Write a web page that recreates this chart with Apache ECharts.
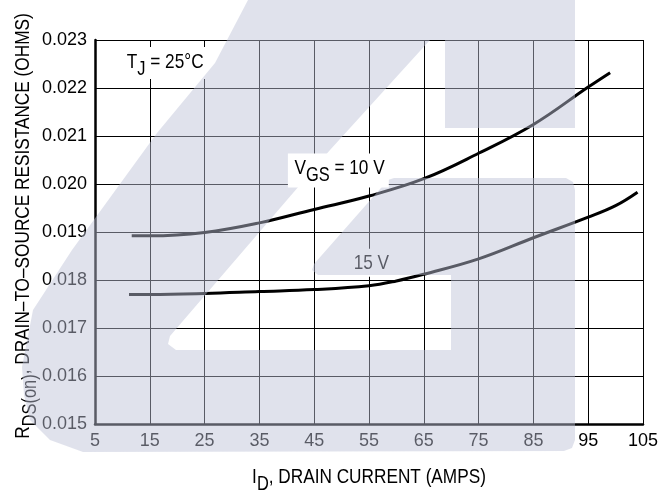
<!DOCTYPE html>
<html><head><meta charset="utf-8">
<script src="https://cdn.jsdelivr.net/npm/echarts@6/dist/echarts.min.js"></script>
<style>html,body{margin:0;padding:0;background:#fff}#c{width:672px;height:491px}</style>
</head><body><div id="c"></div>
<script>
// ---- data ----
const xMin = 5, xMax = 105, xStep = 10;
const yMin = 0.015, yMax = 0.023, yStep = 0.001;
const id10 = [11.7, 15, 25, 35, 45, 55, 65, 75, 85, 95, 99];
const rds10 = [0.01892, 0.01892, 0.01899, 0.01919, 0.01947, 0.01975, 0.02011, 0.02064, 0.02124, 0.02202, 0.02232];
const id15 = [11.2, 15, 25, 35, 45, 55, 60, 65, 75, 85, 95, 100, 104];
const rds15 = [0.01770, 0.01770, 0.01772, 0.01776, 0.01780, 0.01788, 0.01798, 0.01812, 0.01844, 0.01888, 0.01931, 0.01955, 0.01983];
const xTitle = '{m|I}{s|D}{m|, DRAIN CURRENT (AMPS)}';
const yTitle = '{m|R}{s|DS(on)}{m|, DRAIN–TO–SOURCE RESISTANCE (OHMS)}';
const tjText = '{m|T}{s|J}{m| = 25°C}';
const v10Text = '{m|V}{s|GS}{m| = 10 V}';
const v15Text = '{m|15 V}';
// annotation anchors (data units)
const tjAnchor = [10.2, 0.02252];
const v10Anchor = [40.2, 0.02028];
const v15Anchor = [51.6, 0.01836];

const FONT = "'Liberation Sans',Arial,sans-serif";
const SX = 0.82; // condensed look
const rich = {
  m: {fontFamily: FONT, fontSize: 21, lineHeight: 22, color: '#000'},
  s: {fontFamily: FONT, fontSize: 20, lineHeight: 22, height: 8, verticalAlign: 'bottom', color: '#000'}
};

const chart = echarts.init(document.getElementById('c'), null, {renderer: 'canvas'});
const option = {
  animation: false,
  backgroundColor: '#fff',
  grid: {left: 95, right: 29, top: 40, bottom: 67, containLabel: false, outerBoundsMode: 'none'},
  xAxis: {
    type: 'value', min: xMin, max: xMax, interval: xStep,
    axisLine: {show: true, onZero: false, lineStyle: {color: '#000', width: 2.5}},
    axisTick: {show: false},
    axisLabel: {margin: 8, fontFamily: FONT, fontSize: 18, color: '#000'},
    splitLine: {show: true, lineStyle: {color: '#000', width: 1}}
  },
  yAxis: {
    type: 'value', min: yMin, max: yMax, interval: yStep,
    axisLine: {show: true, onZero: false, lineStyle: {color: '#000', width: 2.5}},
    axisTick: {show: false},
    axisLabel: {margin: 8, fontFamily: FONT, fontSize: 18, color: '#000',
      formatter: v => v.toFixed(3)},
    splitLine: {show: true, lineStyle: {color: '#000', width: 1}}
  },
  series: [
    {type: 'line', name: 'VGS = 10 V', data: id10.map((x, i) => [x, rds10[i]]),
     showSymbol: false, smooth: 0.4, lineStyle: {color: '#000', width: 3}, z: 5},
    {type: 'line', name: '15 V', data: id15.map((x, i) => [x, rds15[i]]),
     showSymbol: false, smooth: 0.4, lineStyle: {color: '#000', width: 3}, z: 5}
  ]
};
chart.setOption(option);

const px = p => chart.convertToPixel({gridIndex: 0}, p);
const tj = px(tjAnchor), v10 = px(v10Anchor), v15 = px(v15Anchor);
const g0 = px([xMin, yMin]), g1 = px([xMax, yMax]);
const midX = (g0[0] + g1[0]) / 2, midY = (g0[1] + g1[1]) / 2;

// watermark outline (decorative background logo, pixel space)
const wm = [
  [248,0],[575,0],[575,128],[445,128],[445,40],[430,40],[330,150],[170,336],[168,344],[176,350],
  [451,350],[451,275],[318,275],[312,270],[314,264],[388,180],[394,178],[566,178],[573,182],[575,190],
  [575,440],[572,448],[564,451],[83,452],[50,440],[30,420],[24,395],[22,367],[33,310],[72,250],[157,133],[215,63]
];

chart.setOption({
  graphic: {elements: [
    {type: 'text', z: 50, x: tj[0], y: tj[1], scaleX: SX,
      style: {x: 0, y: 0, text: tjText, rich: rich,
      align: 'left', verticalAlign: 'middle', backgroundColor: '#fff', padding: [4, 4, 6, 4]}},
    {type: 'text', z: 50, x: v15[0], y: v15[1], scaleX: SX,
      style: {x: 0, y: 0, text: v15Text, rich: rich,
      align: 'left', verticalAlign: 'middle', backgroundColor: '#fff', padding: [3, 4, 3, 4]}},
    {type: 'text', z: 50, x: midX, y: g0[1] + 53, scaleX: SX,
      style: {x: 0, y: 0, text: xTitle, rich: rich, align: 'center', verticalAlign: 'middle'}},
    {type: 'text', z: 50, x: g0[0] - 72, y: midY - 6, scaleX: SX, rotation: Math.PI / 2,
      style: {x: 0, y: 0, text: yTitle, rich: rich, align: 'center', verticalAlign: 'middle'}},
    {type: 'polygon', z: 100, silent: true, shape: {points: wm},
      style: {fill: 'rgba(190,193,215,0.47)', stroke: null}},
    {type: 'text', z: 110, x: v10[0], y: v10[1], scaleX: SX,
      style: {x: 0, y: 0, text: v10Text, rich: rich,
      align: 'left', verticalAlign: 'middle', backgroundColor: '#fff', padding: [4, 5, 8, 8]}}
  ]}
});
</script></body></html>
